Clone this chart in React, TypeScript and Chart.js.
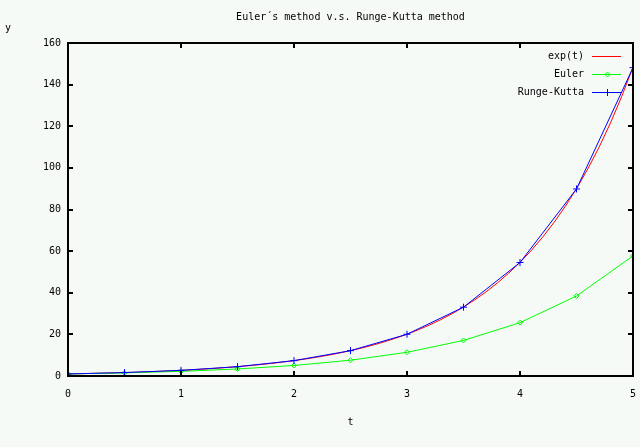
import { useEffect, useRef } from 'react';
import { Chart, registerables } from 'chart.js';

Chart.register(...registerables);

const chartTitle = 'Euler´s method v.s. Runge-Kutta method';
const xAxisLabel = 't';
const yAxisLabel = 'y';

const seriesNames = ['exp(t)', 'Euler', 'Runge-Kutta'];
const seriesColors = ['#ff0000', '#00ff00', '#0000ff'];

const expT = [0, 0.1, 0.2, 0.3, 0.4, 0.5, 0.6, 0.7, 0.8, 0.9, 1.0, 1.1, 1.2, 1.3, 1.4, 1.5, 1.6, 1.7, 1.8, 1.9, 2.0, 2.1, 2.2, 2.3, 2.4, 2.5, 2.6, 2.7, 2.8, 2.9, 3.0, 3.1, 3.2, 3.3, 3.4, 3.5, 3.6, 3.7, 3.8, 3.9, 4.0, 4.1, 4.2, 4.3, 4.4, 4.5, 4.6, 4.7, 4.8, 4.9, 5.0];
const expY = [1.0, 1.105, 1.221, 1.35, 1.492, 1.649, 1.822, 2.014, 2.226, 2.46, 2.718, 3.004, 3.32, 3.669, 4.055, 4.482, 4.953, 5.474, 6.05, 6.686, 7.389, 8.166, 9.025, 9.974, 11.02, 12.18, 13.46, 14.88, 16.44, 18.17, 20.09, 22.2, 24.53, 27.11, 29.96, 33.12, 36.6, 40.45, 44.7, 49.4, 54.6, 60.34, 66.69, 73.7, 81.45, 90.02, 99.48, 109.95, 121.51, 134.29, 148.41];

const stepT = [0, 0.5, 1.0, 1.5, 2.0, 2.5, 3.0, 3.5, 4.0, 4.5, 5.0];
const eulerY = [1.0, 1.5, 2.25, 3.375, 5.063, 7.594, 11.39, 17.09, 25.63, 38.44, 57.67];
const rkY = [1.0, 1.648, 2.717, 4.479, 7.384, 12.17, 20.06, 33.07, 54.52, 89.87, 148.15];

const xMin = 0;
const xMax = 5;
const yMin = 0;
const yMax = 160;
const yStep = 20;
const xStep = 1;

const FONT = '10px "DejaVu Sans Mono", monospace';
const BG = '#f6faf7';

function toPoints(xs: number[], ys: number[]) {
  return xs.map((x, i) => ({ x, y: ys[i] }));
}

const decorPlugin = {
  id: 'gnuplotDecor',
  afterDatasetsDraw(chart: any) {
    const { ctx, chartArea } = chart;
    const { left, right, top, bottom } = chartArea;
    const xs = chart.scales.x;
    const ys = chart.scales.y;
    ctx.save();
    // frame
    ctx.strokeStyle = '#000';
    ctx.lineWidth = 2;
    ctx.strokeRect(left, top, right - left, bottom - top);
    // inward ticks
    const tl = 5;
    ctx.beginPath();
    xs.ticks.forEach((t: any) => {
      const px = Math.round(xs.getPixelForValue(t.value));
      ctx.moveTo(px, bottom);
      ctx.lineTo(px, bottom - tl);
      ctx.moveTo(px, top);
      ctx.lineTo(px, top + tl);
    });
    ys.ticks.forEach((t: any) => {
      const py = Math.round(ys.getPixelForValue(t.value));
      ctx.moveTo(left, py);
      ctx.lineTo(left + tl, py);
      ctx.moveTo(right, py);
      ctx.lineTo(right - tl, py);
    });
    ctx.stroke();

    // legend
    ctx.font = FONT;
    ctx.textBaseline = 'middle';
    chart.data.datasets.forEach((ds: any, i: number) => {
      const y = top + 13 + i * 18;
      ctx.fillStyle = '#000';
      ctx.textAlign = 'right';
      ctx.fillText(ds.label, right - 49, y);
      const x0 = right - 41;
      const x1 = right - 12;
      ctx.strokeStyle = ds.borderColor;
      ctx.lineWidth = 1;
      ctx.beginPath();
      ctx.moveTo(x0, y + 0.5);
      ctx.lineTo(x1, y + 0.5);
      ctx.stroke();
      const cx = Math.round((x0 + x1) / 2) + 0.5;
      const cy = y + 0.5;
      const r = ds.pointRadius;
      if (ds.pointStyle === 'rectRot' && r > 0) {
        ctx.beginPath();
        ctx.moveTo(cx, cy - r);
        ctx.lineTo(cx + r, cy);
        ctx.lineTo(cx, cy + r);
        ctx.lineTo(cx - r, cy);
        ctx.closePath();
        ctx.stroke();
      } else if (ds.pointStyle === 'cross' && r > 0) {
        ctx.beginPath();
        ctx.moveTo(cx, cy - r);
        ctx.lineTo(cx, cy + r);
        ctx.moveTo(cx - r, cy);
        ctx.lineTo(cx + r, cy);
        ctx.stroke();
      }
    });

    // titles
    ctx.fillStyle = '#000';
    ctx.textAlign = 'center';
    ctx.fillText(chartTitle, (left + right) / 2, 17);
    ctx.fillText(xAxisLabel, (left + right) / 2, 422);
    ctx.textAlign = 'left';
    ctx.fillText(yAxisLabel, 5, 28);
    ctx.restore();
  },
};

export default function App() {
  const ref = useRef<HTMLCanvasElement | null>(null);
  useEffect(() => {
    if (!ref.current) return;
    const chart = new Chart(ref.current, {
      type: 'line',
      data: {
        datasets: [
          {
            label: seriesNames[0],
            data: toPoints(expT, expY),
            borderColor: seriesColors[0],
            backgroundColor: seriesColors[0],
            borderWidth: 1,
            pointRadius: 0,
            pointStyle: 'circle',
            tension: 0,
            order: 3,
          },
          {
            label: seriesNames[1],
            data: toPoints(stepT, eulerY),
            borderColor: seriesColors[1],
            backgroundColor: 'rgba(0,0,0,0)',
            borderWidth: 1,
            pointRadius: 2.5,
            pointBorderWidth: 1,
            pointStyle: 'rectRot',
            tension: 0,
            order: 2,
          },
          {
            label: seriesNames[2],
            data: toPoints(stepT, rkY),
            borderColor: seriesColors[2],
            backgroundColor: seriesColors[2],
            borderWidth: 1,
            pointRadius: 3.5,
            pointBorderWidth: 1,
            pointStyle: 'cross',
            tension: 0,
            order: 1,
          },
        ] as any,
      },
      options: {
        responsive: false,
        animation: false,
        events: [],
        layout: { padding: { top: 43, right: 7, left: 0, bottom: 0 } },
        plugins: {
          legend: { display: false },
          title: { display: false },
          tooltip: { enabled: false },
        },
        scales: {
          x: {
            type: 'linear',
            min: xMin,
            max: xMax,
            grid: { display: false, drawTicks: false },
            border: { display: false },
            ticks: {
              stepSize: xStep,
              color: '#000',
              font: { family: '"DejaVu Sans Mono", monospace', size: 10 },
              padding: 12,
              maxRotation: 0,
            },
            afterFit(scale: any) {
              scale.height = 71;
              scale.paddingLeft = 0;
              scale.paddingRight = 0;
            },
          },
          y: {
            type: 'linear',
            min: yMin,
            max: yMax,
            grid: { display: false, drawTicks: false },
            border: { display: false },
            ticks: {
              stepSize: yStep,
              color: '#000',
              font: { family: '"DejaVu Sans Mono", monospace', size: 10 },
              padding: 7,
            },
            afterFit(scale: any) {
              scale.width = 68;
              scale.paddingTop = 0;
              scale.paddingBottom = 0;
            },
          },
        },
      },
      plugins: [decorPlugin],
    });
    return () => chart.destroy();
  }, []);
  return (
    <div style={{ position: 'fixed', left: 0, top: 0, width: 640, height: 447, background: BG }}>
      <canvas ref={ref} width={640} height={447} />
    </div>
  );
}
